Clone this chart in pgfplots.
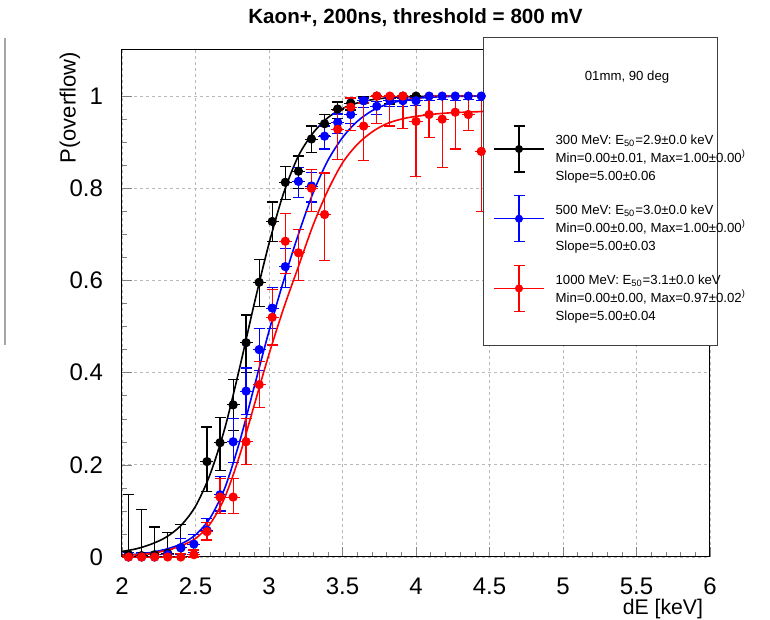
\documentclass[border=0pt]{standalone}
\usepackage{fontspec}
\setmainfont{Liberation Sans}
\usepackage{pgfplots}
\usepackage{pgfplotstable}
\pgfplotsset{compat=1.18}

% efficiency points: x, y, error plus, error minus
\pgfplotstableread{
x     y      ep     em
2.044 0.005  0.130  0.005
2.133 0.003  0.100  0.003
2.222 0.005  0.060  0.005
2.311 0.008  0.045  0.008
2.400 0.020  0.050  0.020
2.578 0.207  0.075  0.065
2.667 0.248  0.055  0.060
2.756 0.330  0.055  0.055
2.844 0.465  0.060  0.065
2.933 0.596  0.050  0.053
3.022 0.728  0.042  0.043
3.111 0.813  0.035  0.037
3.200 0.837  0.033  0.037
3.289 0.907  0.028  0.029
3.378 0.940  0.020  0.025
3.467 0.972  0.015  0.020
3.556 0.985  0.010  0.015
3.644 0.990  0.008  0.015
3.733 1.000  0.000  0.012
3.822 0.995  0.005  0.012
3.911 1.000  0.000  0.010
4.000 1.000  0.000  0.010
}\blk

\pgfplotstableread{
x     y      ep     em
2.044 0.000  0.010  0.000
2.133 0.000  0.010  0.000
2.222 0.000  0.010  0.000
2.311 0.005  0.012  0.005
2.400 0.020  0.020  0.015
2.489 0.028  0.020  0.018
2.578 0.058  0.025  0.020
2.667 0.135  0.040  0.035
2.756 0.250  0.050  0.045
2.844 0.360  0.050  0.050
2.933 0.450  0.045  0.045
3.022 0.540  0.045  0.045
3.111 0.630  0.040  0.045
3.200 0.815  0.030  0.035
3.289 0.805  0.030  0.035
3.378 0.913  0.022  0.028
3.467 0.943  0.018  0.025
3.556 0.960  0.015  0.020
3.644 0.990  0.006  0.015
3.733 0.978  0.010  0.018
3.822 0.990  0.006  0.012
3.911 0.990  0.006  0.012
4.000 0.990  0.006  0.010
4.089 1.000  0.000  0.010
4.178 1.000  0.000  0.008
4.267 1.000  0.000  0.010
4.356 1.000  0.000  0.008
4.444 1.000  0.000  0.010
}\blu

\pgfplotstableread{
x     y      ep     em
2.044 0.000  0.005  0.000
2.133 0.000  0.005  0.000
2.222 0.000  0.005  0.000
2.311 0.000  0.005  0.000
2.400 0.000  0.008  0.000
2.489 0.005  0.010  0.005
2.578 0.055  0.020  0.018
2.667 0.130  0.040  0.035
2.756 0.130  0.040  0.035
2.844 0.250  0.050  0.050
2.933 0.374  0.050  0.050
3.022 0.520  0.060  0.060
3.111 0.685  0.060  0.070
3.200 0.660  0.050  0.060
3.289 0.800  0.040  0.050
3.378 0.743  0.090  0.100
3.467 0.928  0.040  0.065
3.556 0.976  0.020  0.050
3.644 0.935  0.050  0.075
3.733 1.000  0.000  0.060
3.822 1.000  0.000  0.065
3.911 1.000  0.000  0.070
4.000 0.945  0.050  0.120
4.089 0.960  0.040  0.050
4.178 0.950  0.050  0.105
4.267 0.965  0.035  0.080
4.356 0.960  0.040  0.035
4.444 0.880  0.120  0.130
}\rd

\begin{document}
\begin{tikzpicture}
\path[use as bounding box] (-61pt,-31.5pt) rectangle (324pt,278.5pt);
\begin{axis}[
  scale only axis, width=294pt, height=253.5pt,
  xmin=2, xmax=6, ymin=0, ymax=1.1,
  xtick={2,2.5,3,3.5,4,4.5,5,5.5,6},
  ytick={0,0.2,0.4,0.6,0.8,1},
  minor x tick num=4, minor y tick num=3,
  tick align=inside, xtick pos=left, ytick pos=left,
  major tick length=5pt, minor tick length=2.5pt,
  axis line style={line width=0.5pt},
  grid=major,
  major grid style={gray!55, line width=0.4pt, dash pattern=on 1.5pt off 1.5pt},
  tick label style={font=\fontsize{12}{14}\selectfont},
  /pgf/number format/assume math mode=true,
  yticklabel style={xshift=-6pt},
  xticklabel style={yshift=-7pt},
  clip=false,
  legend style={at={(rel axis cs:0.631,0.852)}, anchor=north west,
    draw=none, fill=none, inner sep=0pt, row sep=11.25pt, column sep=5.5pt,
    font=\fontsize{6.6}{9}\selectfont, nodes={inner sep=0pt}},
  legend cell align=left,
  legend image code/.code={
    \draw[#1, line width=0.6pt] (0pt,0pt) -- (25pt,0pt);
    \draw[#1, line width=0.6pt] (12.5pt,-11.5pt) -- (12.5pt,11.5pt);
    \draw[#1, line width=0.6pt] (9.75pt,-11.5pt) -- (15.25pt,-11.5pt);
    \draw[#1, line width=0.6pt] (9.75pt,11.5pt) -- (15.25pt,11.5pt);
    \draw[#1] plot[mark=*, mark size=1.8pt] coordinates {(12.5pt,0pt)};
  },
]
% 300 MeV
\addplot[black, line width=0.8pt, smooth, forget plot] coordinates {
 (2.0,0.012) (2.1,0.018) (2.2,0.028) (2.3,0.043) (2.4,0.068) (2.5,0.11)
 (2.6,0.18) (2.7,0.28) (2.8,0.41) (2.9,0.55) (3.0,0.68) (3.1,0.79)
 (3.2,0.87) (3.3,0.92) (3.4,0.953) (3.5,0.973) (3.6,0.985) (3.7,0.992)
 (3.8,0.996) (3.9,0.998) (4.0,0.999) (4.2,1.0) (4.5,1.0)};
\addplot[black, only marks, mark=none, line width=0.6pt, forget plot,
  error bars/.cd, x dir=both, x fixed=0.0444, error mark=none]
  table[x=x, y=y] \blk;
\addplot[black, only marks, mark=*, mark size=1.8pt, forget plot,
  error bars/.cd, y dir=both, y explicit,
  error bar style={line width=0.6pt},
  error mark options={rotate=90, mark size=2.75pt, line width=0.6pt}]
  table[x=x, y=y, y error plus=ep, y error minus=em] \blk;
% 500 MeV
\addplot[blue, line width=0.8pt, smooth, forget plot] coordinates {
 (2.0,0.004) (2.1,0.006) (2.2,0.01) (2.3,0.017) (2.4,0.028) (2.5,0.048)
 (2.6,0.085) (2.7,0.15) (2.8,0.25) (2.9,0.37) (3.0,0.49) (3.1,0.6)
 (3.2,0.7) (3.3,0.79) (3.4,0.86) (3.5,0.91) (3.6,0.945) (3.7,0.968)
 (3.8,0.982) (3.9,0.99) (4.0,0.995) (4.2,0.999) (4.5,1.0)};
\addplot[blue, only marks, mark=none, line width=0.6pt, forget plot,
  error bars/.cd, x dir=both, x fixed=0.0444, error mark=none]
  table[x=x, y=y] \blu;
\addplot[blue, only marks, mark=*, mark size=1.8pt, forget plot,
  error bars/.cd, y dir=both, y explicit,
  error bar style={line width=0.6pt},
  error mark options={rotate=90, mark size=2.75pt, line width=0.6pt}]
  table[x=x, y=y, y error plus=ep, y error minus=em] \blu;
% 1000 MeV
\addplot[red, line width=0.8pt, smooth, forget plot] coordinates {
 (2.0,0.003) (2.1,0.005) (2.2,0.008) (2.3,0.014) (2.4,0.024) (2.5,0.04)
 (2.6,0.072) (2.7,0.13) (2.8,0.22) (2.9,0.33) (3.0,0.44) (3.1,0.54)
 (3.2,0.63) (3.3,0.72) (3.4,0.795) (3.5,0.855) (3.6,0.895) (3.7,0.922)
 (3.8,0.94) (3.9,0.95) (4.0,0.956) (4.2,0.963) (4.5,0.967)};
\addplot[red, only marks, mark=none, line width=0.6pt, forget plot,
  error bars/.cd, x dir=both, x fixed=0.0444, error mark=none]
  table[x=x, y=y] \rd;
\addplot[red, only marks, mark=*, mark size=1.8pt, forget plot,
  error bars/.cd, y dir=both, y explicit,
  error bar style={line width=0.6pt},
  error mark options={rotate=90, mark size=2.75pt, line width=0.6pt}]
  table[x=x, y=y, y error plus=ep, y error minus=em] \rd;

% legend box
\draw[fill=white, draw=black!75, line width=0.5pt]
  (rel axis cs:0.614,1.024) rectangle (rel axis cs:1.0136,0.418);
\node[font=\fontsize{6.6}{8}\selectfont] at (rel axis cs:0.859,0.947) {01mm, 90 deg};

\addlegendimage{black}
\addlegendentry{\begin{tabular}{@{}l@{}}300 MeV: E\textsubscript{50}=2.9±0.0 keV\\Min=0.00±0.01, Max=1.00±0.00\textsuperscript{)}\\Slope=5.00±0.06\end{tabular}}
\addlegendimage{blue}
\addlegendentry{\begin{tabular}{@{}l@{}}500 MeV: E\textsubscript{50}=3.0±0.0 keV\\Min=0.00±0.00, Max=1.00±0.00\textsuperscript{)}\\Slope=5.00±0.03\end{tabular}}
\addlegendimage{red}
\addlegendentry{\begin{tabular}{@{}l@{}}1000 MeV: E\textsubscript{50}=3.1±0.0 keV\\Min=0.00±0.00, Max=0.97±0.02\textsuperscript{)}\\Slope=5.00±0.04\end{tabular}}
\end{axis}
\node[font=\bfseries\fontsize{10.3}{12}\selectfont] at (146.75pt,269.5pt) {Kaon+, 200ns, threshold = 800 mV};
\node[rotate=90, anchor=east, font=\fontsize{11}{13}\selectfont] at (-26pt,256pt) {P(overflow)};
\node[anchor=east, font=\fontsize{10.6}{13}\selectfont] at (294pt,-26pt) {dE [keV]};
\draw[gray!70, line width=0.8pt] (-58.5pt,106pt) -- (-58.5pt,259.5pt);
\end{tikzpicture}
\end{document}
